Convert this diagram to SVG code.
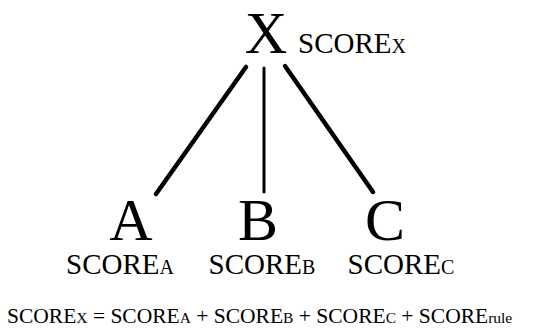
<svg xmlns="http://www.w3.org/2000/svg" width="552" height="332" viewBox="0 0 552 332">
<style>
text{font-family:"Liberation Serif","Times New Roman",serif;fill:#000}
.big{font-size:60px}
.bigx{font-size:59px}
.lab{font-size:29px}
.sub{font-size:20px}
.eq{font-size:21.5px}
.eqs{font-size:15.5px}
line{stroke:#000;stroke-linecap:round}
</style>
<rect width="552" height="332" fill="#fff"/>
<g id="connectors">
<line x1="246" y1="67" x2="156" y2="194" stroke-width="4.5"/>
<line x1="264" y1="68" x2="264" y2="192" stroke-width="3"/>
<line x1="285" y1="66" x2="373" y2="192" stroke-width="4.5"/>
</g>
<g id="nodeX">
<text class="bigx" x="266" y="53" text-anchor="middle">X</text>
<text class="lab" x="298" y="53">SCORE<tspan class="sub">X</tspan></text>
</g>
<g id="nodeA">
<text class="big" x="131" y="240" text-anchor="middle">A</text>
<text class="lab" x="120" y="274" text-anchor="middle">SCORE<tspan class="sub">A</tspan></text>
</g>
<g id="nodeB">
<text class="big" x="258" y="240" text-anchor="middle">B</text>
<text class="lab" x="262" y="274" text-anchor="middle">SCORE<tspan class="sub">B</tspan></text>
</g>
<g id="nodeC">
<text class="big" x="385" y="240" text-anchor="middle">C</text>
<text class="lab" x="401" y="274" text-anchor="middle">SCORE<tspan class="sub">C</tspan></text>
</g>
<g id="equation">
<text class="eq" x="7" y="323">SCORE<tspan class="eqs">X</tspan> = SCORE<tspan class="eqs">A</tspan> + SCORE<tspan class="eqs">B</tspan> + SCORE<tspan class="eqs">C</tspan> + SCORE<tspan class="eqs">rule</tspan></text>
</g>
</svg>
